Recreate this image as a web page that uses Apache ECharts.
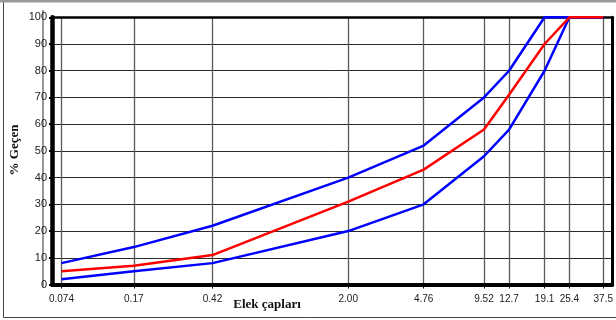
<!DOCTYPE html>
<html><head><meta charset="utf-8">
<script src="https://cdn.jsdelivr.net/npm/echarts@6/dist/echarts.min.js"></script>
<style>html,body{margin:0;padding:0;background:#fff}#c{width:616px;height:320px}</style>
</head><body><div id="c"></div>
<script>
// Sieve sizes (mm) and their tick labels
const sieveSizes = [0.074, 0.17, 0.42, 2.00, 4.76, 9.52, 12.7, 19.1, 25.4, 37.5];
const sieveLabels = ['0.074', '0.17', '0.42', '2.00', '4.76', '9.52', '12.7', '19.1', '25.4', '37.5'];
// Percent passing
const upperLimit = [8, 14, 22, 40, 52, 70, 80, 100, 100, 100];
const lowerLimit = [2, 5, 8, 20, 30, 48, 58, 80, 100, 100];
const mixture    = [5, 7, 11, 31, 43, 58, 71, 90, 100, 100];
const yMin = 0, yMax = 100, yStep = 10;

const pairs = arr => sieveSizes.map((s, i) => [s, arr[i]]);
function labelFor(v) {
  let best = 0, bd = Infinity;
  sieveSizes.forEach((s, i) => { const d = Math.abs(Math.log(s) - Math.log(v)); if (d < bd) { bd = d; best = i; } });
  return sieveLabels[best];
}

const chart = echarts.init(document.getElementById('c'), null, { renderer: 'canvas' });
const lineSeries = (name, arr, color) => ({
  name, type: 'line', data: pairs(arr), showSymbol: false, symbol: 'none',
  clip: false, animation: false, lineStyle: { color, width: 2.5 }, z: 5
});
chart.setOption({
  animation: false,
  backgroundColor: '#fff',
  grid: { left: 52, right: 3.3, top: 17.3, bottom: 35.5, containLabel: false },
  xAxis: [{
    type: 'log', logBase: 10, min: 0.0664, max: 41.6,
    axisLine: { show: true, onZero: false, lineStyle: { color: '#000', width: 4 } },
    axisTick: { show: true, customValues: sieveSizes, length: 4, lineStyle: { color: '#000', width: 1 } },
    axisLabel: { show: true, customValues: sieveSizes, formatter: labelFor, margin: 10, hideOverlap: false,
      fontFamily: 'Liberation Sans, Arial, sans-serif', fontSize: 10, color: '#222' },
    splitLine: { show: true, lineStyle: { color: '#5a5a5a', width: 1.3 } },
    minorTick: { show: false }, minorSplitLine: { show: false }
  }, {
    type: 'log', logBase: 10, min: 0.0664, max: 41.6, position: 'top',
    axisLine: { show: true, onZero: false, lineStyle: { color: '#000', width: 2.5 } },
    axisTick: { show: false }, axisLabel: { show: false }, splitLine: { show: false }
  }],
  yAxis: [{
    type: 'value', min: yMin, max: yMax, interval: yStep,
    axisLine: { show: true, onZero: false, lineStyle: { color: '#000', width: 4.5 } },
    axisTick: { show: true, length: 3, lineStyle: { color: '#000', width: 2 } },
    axisLabel: { margin: 5, fontFamily: 'Liberation Sans, Arial, sans-serif', fontSize: 11, color: '#222' },
    splitLine: { show: true, lineStyle: { color: '#2a2a2a', width: 1 } }
  }, {
    type: 'value', min: yMin, max: yMax, interval: yStep, position: 'right',
    axisLine: { show: true, onZero: false, lineStyle: { color: '#000', width: 3 } },
    axisTick: { show: false }, axisLabel: { show: false }, splitLine: { show: false }
  }],
  graphic: [
    { type: 'rect', z: -10, shape: { x: 3.5, y: 1.5, width: 640, height: 316 }, style: { fill: 'none', stroke: '#444', lineWidth: 1 } },
    { type: 'line', z: -9, shape: { x1: 0, y1: 1, x2: 616, y2: 1 }, style: { stroke: '#999', lineWidth: 3 } },
    { type: 'line', z: -9, shape: { x1: 43, y1: 10, x2: 43, y2: 287 }, style: { stroke: '#333', lineWidth: 1 } },
    { type: 'text', x: 267, y: 305, style: { text: 'Elek çapları', fontFamily: 'Liberation Serif, Times New Roman, serif',
        fontWeight: 'bold', fontSize: 13, fill: '#111', align: 'center', verticalAlign: 'middle' } },
    { type: 'text', x: 15, y: 150, rotation: Math.PI / 2, style: { text: '% Geçen', fontFamily: 'Liberation Serif, Times New Roman, serif',
        fontWeight: 'bold', fontSize: 13, fill: '#111', align: 'center', verticalAlign: 'middle' } }
  ],
  series: [
    lineSeries('Üst sınır', upperLimit, '#0000ff'),
    lineSeries('Alt sınır', lowerLimit, '#0000ff'),
    lineSeries('Karışım', mixture, '#ff0000')
  ]
});
</script>
</body></html>
